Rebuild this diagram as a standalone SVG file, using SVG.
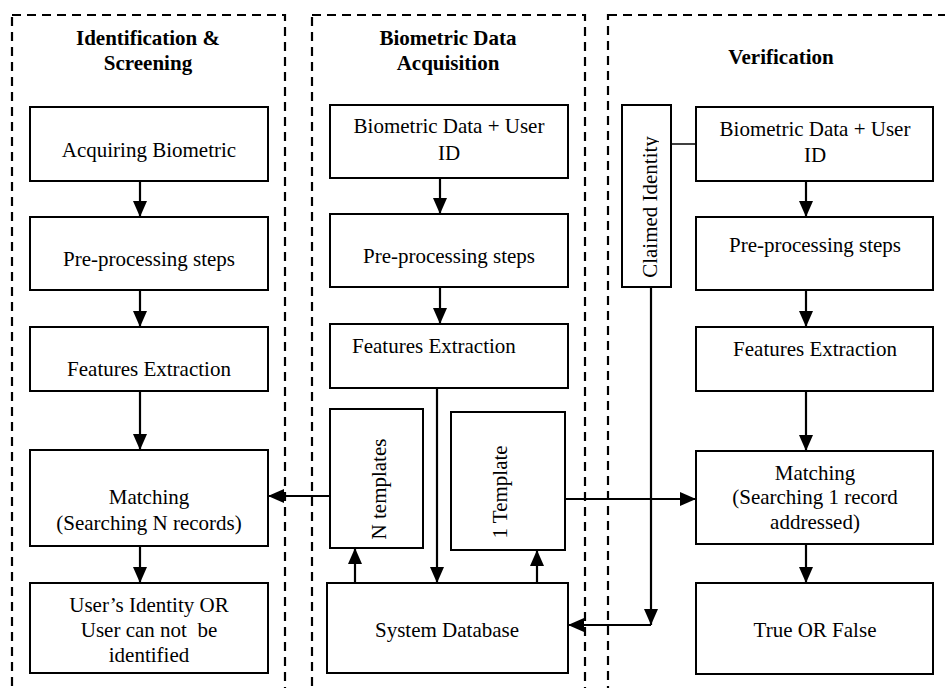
<svg xmlns="http://www.w3.org/2000/svg" width="945" height="688" viewBox="0 0 945 688">
<style>
.panel{fill:none;stroke:#000;stroke-width:2.2;stroke-dasharray:9 6}
.box{fill:#fff;stroke:#000;stroke-width:2}
.t{font-family:"Liberation Serif","Times New Roman",serif;font-size:21px;fill:#000;text-anchor:middle}
.h{font-family:"Liberation Serif","Times New Roman",serif;font-size:21px;font-weight:bold;fill:#000;text-anchor:middle}
.c{fill:none;stroke:#000;stroke-width:2.2}
.a{marker-end:url(#arr)}
</style>
<defs>
<marker id="arr" markerUnits="userSpaceOnUse" markerWidth="16" markerHeight="14" refX="16" refY="7" orient="auto">
<path d="M0,0 L16,7 L0,14 z" fill="#000"/>
</marker>
<clipPath id="clipClaim"><rect x="622" y="105" width="37" height="182"/></clipPath>
</defs>
<rect width="945" height="688" fill="#fff"/>
<g id="panels">
<rect class="panel" x="12" y="15" width="273" height="700"/>
<rect class="panel" x="312" y="15" width="273" height="700"/>
<rect class="panel" x="608" y="15" width="360" height="700"/>
<text class="h" x="148" y="45">Identification &amp;</text>
<text class="h" x="148" y="70">Screening</text>
<text class="h" x="448" y="45">Biometric Data</text>
<text class="h" x="448" y="70">Acquisition</text>
<text class="h" x="781" y="64">Verification</text>
</g>
<g id="connectors">
<line class="c a" x1="140" y1="181" x2="140" y2="217"/>
<line class="c a" x1="140" y1="290" x2="140" y2="327"/>
<line class="c a" x1="140" y1="391" x2="140" y2="450"/>
<line class="c a" x1="140" y1="546" x2="140" y2="583"/>
<line class="c a" x1="440" y1="178" x2="440" y2="214"/>
<line class="c a" x1="440" y1="287" x2="440" y2="324"/>
<line class="c a" x1="437" y1="388" x2="437" y2="583"/>
<line class="c a" x1="355" y1="583" x2="355" y2="548"/>
<line class="c a" x1="537" y1="583" x2="537" y2="550"/>
<line class="c a" x1="330" y1="496" x2="268" y2="496"/>
<line class="c a" x1="565" y1="499" x2="696" y2="499"/>
<line class="c a" x1="806" y1="181" x2="806" y2="217"/>
<line class="c a" x1="806" y1="290" x2="806" y2="327"/>
<line class="c a" x1="806" y1="391" x2="806" y2="451"/>
<line class="c a" x1="806" y1="544" x2="806" y2="583"/>
<line class="c" x1="671" y1="144" x2="696" y2="144" style="stroke-width:1.5"/>
<line class="c a" x1="651" y1="287" x2="651" y2="625"/>
<line class="c a" x1="651" y1="625" x2="568" y2="625"/>
</g>
<g id="acq-bio">
<rect class="box" x="30" y="107" width="238" height="74"/>
<text class="t" x="149" y="157">Acquiring Biometric</text>
</g>
<g id="pre-left">
<rect class="box" x="30" y="217" width="238" height="73"/>
<text class="t" x="149" y="266">Pre-processing steps</text>
</g>
<g id="feat-left">
<rect class="box" x="30" y="327" width="238" height="64"/>
<text class="t" x="149" y="376">Features Extraction</text>
</g>
<g id="match-left">
<rect class="box" x="30" y="450" width="238" height="96"/>
<text class="t" x="149" y="504">Matching</text>
<text class="t" x="149" y="530">(Searching N records)</text>
</g>
<g id="result-left">
<rect class="box" x="30" y="583" width="238" height="90"/>
<text class="t" x="149" y="612">User’s Identity OR</text>
<text class="t" x="149" y="637" xml:space="preserve">User can not  be</text>
<text class="t" x="149" y="662">identified</text>
</g>
<g id="bio-mid">
<rect class="box" x="330" y="105" width="238" height="73"/>
<text class="t" x="449" y="133">Biometric Data + User</text>
<text class="t" x="449" y="160">ID</text>
</g>
<g id="pre-mid">
<rect class="box" x="330" y="214" width="238" height="73"/>
<text class="t" x="449" y="263">Pre-processing steps</text>
</g>
<g id="feat-mid">
<rect class="box" x="330" y="324" width="238" height="64"/>
<text class="t" x="352" y="353" style="text-anchor:start">Features Extraction</text>
</g>
<g id="n-templates">
<rect class="box" x="330" y="409" width="93" height="139"/>
<text class="t" transform="translate(386,489) rotate(-90)">N templates</text>
</g>
<g id="one-template">
<rect class="box" x="451" y="412" width="114" height="138"/>
<text class="t" transform="translate(507,492) rotate(-90)">1 Template</text>
</g>
<g id="sysdb">
<rect class="box" x="327" y="583" width="241" height="90"/>
<text class="t" x="447" y="637">System Database</text>
</g>
<g id="claimed">
<rect class="box" x="622" y="105" width="49" height="182"/>
<g clip-path="url(#clipClaim)">
<text class="t" transform="translate(657,207) rotate(-90)">Claimed Identity</text>
</g>
</g>
<g id="bio-right">
<rect class="box" x="696" y="107" width="237" height="74"/>
<text class="t" x="815" y="136">Biometric Data + User</text>
<text class="t" x="815" y="162">ID</text>
</g>
<g id="pre-right">
<rect class="box" x="696" y="217" width="237" height="73"/>
<text class="t" x="815" y="252">Pre-processing steps</text>
</g>
<g id="feat-right">
<rect class="box" x="696" y="327" width="237" height="64"/>
<text class="t" x="815" y="356">Features Extraction</text>
</g>
<g id="match-right">
<rect class="box" x="696" y="451" width="237" height="93"/>
<text class="t" x="815" y="480">Matching</text>
<text class="t" x="815" y="504">(Searching 1 record</text>
<text class="t" x="815" y="529">addressed)</text>
</g>
<g id="true-false">
<rect class="box" x="696" y="583" width="237" height="91"/>
<text class="t" x="815" y="637">True OR False</text>
</g>
</svg>
